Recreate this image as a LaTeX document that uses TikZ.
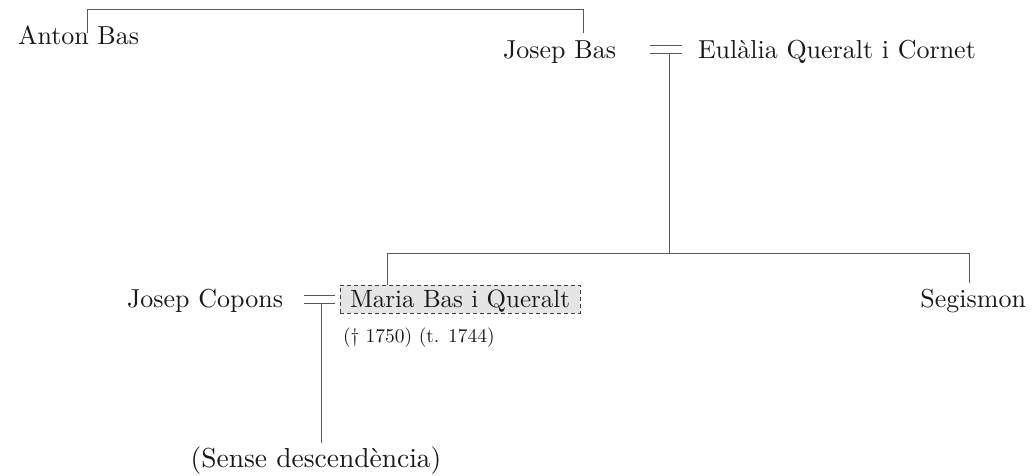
\documentclass[tikz,border=0pt]{standalone}
\usetikzlibrary{calc}
\font\fmain="[lmroman10-regular]:+tlig;" at 26pt
\font\fmaria="[lmroman10-regular]:+tlig;" at 25pt
\font\fsmall="[lmroman10-regular]:+tlig;" at 19.5pt
\font\fsense="[lmroman10-regular]:+tlig;" at 27.5pt
\begin{document}
\tikzset{
  person/.style={inner sep=0pt, outer sep=0pt, font=\fmain, text=black!90},
  smalltxt/.style={inner sep=0pt, outer sep=0pt, font=\fsmall, text=black!90},
  link/.style={draw=black!65, line width=1pt},
  focal/.style={person, font=\fmaria, draw=black!75, dash pattern=on 4pt off 3pt, fill=black!10,
    inner xsep=10pt, inner ysep=3pt, text height=19pt, text depth=3pt, line width=0.8pt},
}
\begin{tikzpicture}[x=1pt,y=-1pt]
\useasboundingbox (0,0) rectangle (1034,475);
% people
\node[person, anchor=base west] (anton) at (18,44) {Anton Bas};
\node[person, anchor=base east] (josep) at (616,58) {Josep Bas};
\node[person, anchor=base west] (eulalia) at (698,58) {Eulàlia Queralt i Cornet};
\node[person, anchor=base east] (copons) at (283,307) {Josep Copons};
\node[focal, anchor=south west] (maria) at (340,313) {Maria Bas i Queralt};
\node[smalltxt, anchor=base west] (dates) at (343,342) {(† 1750) (t. 1744)};
\node[person, anchor=base east] (segismon) at (1026,307) {Segismon};
\node[person, font=\fsense, anchor=base] (sense) at (316,467) {(Sense descendència)};
% connector points
\coordinate (antonup) at (87,33);
\coordinate (josepup) at (583,33);
\coordinate (m1a) at (650,45); \coordinate (m1b) at (682,45);
\coordinate (m1c) at (650,53); \coordinate (m1d) at (682,53);
\coordinate (m1) at (669,53);
\coordinate (sib) at (669,253);
\coordinate (mariaup) at (387,253);
\coordinate (segup) at (969,253);
\coordinate (segdn) at (969,283);
\coordinate (m2a) at (304,295); \coordinate (m2b) at (335,295);
\coordinate (m2c) at (304,303); \coordinate (m2d) at (335,303);
\coordinate (m2) at (321,303);
\coordinate (senseup) at (321,443);
% connectors
\draw[link] (antonup) -- ++(0,-24) -| (josepup);
\draw[link] (m1a) -- (m1b);
\draw[link] (m1c) -- (m1d);
\draw[link] (m1) -- (sib);
\draw[link] (mariaup) -- (segup);
\draw[link] (mariaup) -- (mariaup |- maria.north);
\draw[link] (segup) -- (segdn);
\draw[link] (m2a) -- (m2b);
\draw[link] (m2c) -- (m2d);
\draw[link] (m2) -- (senseup);
\end{tikzpicture}
\end{document}
